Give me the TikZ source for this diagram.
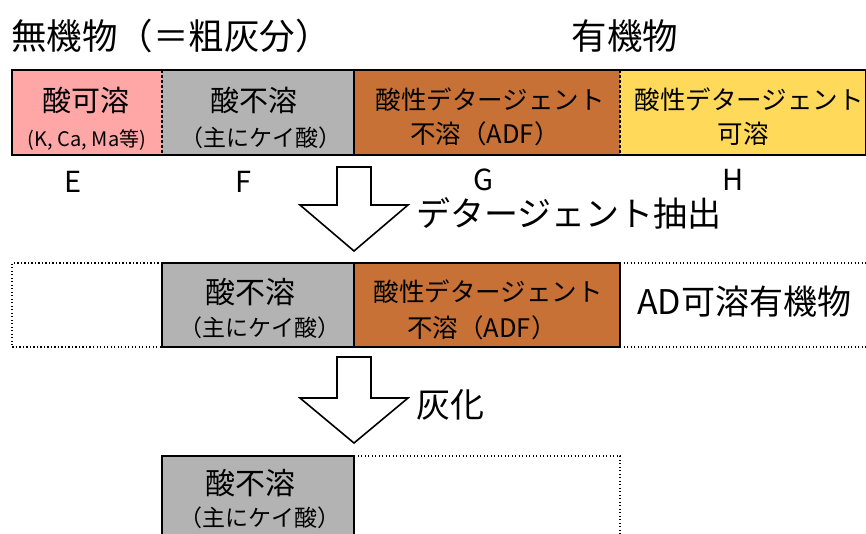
\documentclass[tikz,border=0pt]{standalone}
\usepackage{fontspec}
\setmainfont{Noto Sans CJK JP}
\definecolor{pinkE}{HTML}{FFA6A6}
\definecolor{grayF}{HTML}{B3B3B3}
\definecolor{orangeG}{HTML}{C87137}
\definecolor{yellowH}{HTML}{FFD95A}
\newcommand{\fs}[1]{\fontsize{#1}{#1}\selectfont}
\begin{document}
\begin{tikzpicture}[x=1pt,y=-1pt,
  cell/.style={anchor=north west, inner sep=0pt, outer sep=0pt},
  txt/.style={inner sep=0pt, anchor=center},
  frame/.style={line width=2pt},
  dots/.style={line width=1.4pt, dash pattern=on 1.3pt off 2.2pt},
  dashdiv/.style={line width=1.2pt, dash pattern=on 3pt off 2pt},
  blockarrow/.style={draw, line width=1.6pt, fill=white, line join=miter}
]
\useasboundingbox (0,0) rectangle (866,533);
% titles
\node[txt, anchor=west, font=\fs{35.5}] (t1) at (11,36) {無機物（＝粗灰分）};
\node[txt, font=\fs{35.5}] (t2) at (625,36) {有機物};
% row 1
\node[cell, fill=pinkE, minimum width=150pt, minimum height=85pt] (e1) at (12,70) {};
\node[cell, fill=grayF, minimum width=192pt, minimum height=85pt] (f1) at (162,70) {};
\node[cell, fill=orangeG, minimum width=266pt, minimum height=85pt] (g1) at (354,70) {};
\node[cell, fill=yellowH, minimum width=246pt, minimum height=85pt] (h1) at (620,70) {};
\draw[dashdiv] (e1.north east) -- (e1.south east);
\draw[line width=1.2pt] (f1.north east) -- (f1.south east);
\draw[dashdiv] (g1.north east) -- (g1.south east);
\draw[frame] (e1.north west) rectangle (h1.south east);
\node[txt, font=\fs{29}] (e1a) at (86,100) {酸可溶};
\node[txt, font=\fs{20}] (e1b) at (87,140) {(K, Ca, Ma等)};
\node[txt, font=\fs{29}] (f1a) at (254,100) {酸不溶};
\node[txt, font=\fs{23}] (f1b) at (261,138) {（主にケイ酸）};
\node[txt, font=\fs{25.5}] (g1a) at (490,100) {酸性デタージェント};
\node[txt, font=\fs{25.5}] (g1b) at (485,134) {不溶（ADF）};
\node[txt, font=\fs{25.5}] (h1a) at (749,100) {酸性デタージェント};
\node[txt, font=\fs{25.5}] (h1b) at (743,134) {可溶};
% letters
\node[txt, font=\fs{29}] (le) at (73,182) {E};
\node[txt, font=\fs{29}] (lf) at (243,182) {F};
\node[txt, font=\fs{29}] (lg) at (483,180) {G};
\node[txt, font=\fs{29}] (lh) at (733,180) {H};
% arrow 1
\draw[blockarrow] (337,167) -- (371,167) -- (371,205) -- (408,205) -- (354,251) -- (300,205) -- (337,205) -- cycle;
\node[txt, anchor=west, font=\fs{34}] (a1l) at (416,213) {デタージェント抽出};
% row 2
\node[cell, minimum width=150pt, minimum height=84pt] (e2) at (12,263) {};
\node[cell, fill=grayF, minimum width=192pt, minimum height=84pt] (f2) at (162,263) {};
\node[cell, fill=orangeG, minimum width=266pt, minimum height=84pt] (g2) at (354,263) {};
\node[cell, minimum width=246pt, minimum height=84pt] (h2) at (620,263) {};
\draw[dots] (e2.north east) -- (e2.north west) -- (e2.south west) -- (e2.south east);
\draw[dots] (h2.north west) -- (h2.north east) (h2.south west) -- (h2.south east);
\draw[line width=1.2pt] (f2.north east) -- (f2.south east);
\draw[frame] (f2.north west) rectangle (g2.south east);
\node[txt, font=\fs{30}] (f2a) at (250,292) {酸不溶};
\node[txt, font=\fs{23}] (f2b) at (260,328) {（主にケイ酸）};
\node[txt, font=\fs{25.5}] (g2a) at (488,292) {酸性デタージェント};
\node[txt, font=\fs{25.5}] (g2b) at (482,328) {不溶（ADF）};
\node[txt, anchor=west, font=\fs{34}] (h2a) at (637,302) {AD可溶有機物};
% arrow 2
\draw[blockarrow] (337,357) -- (371,357) -- (371,398) -- (408,398) -- (354,443) -- (300,398) -- (337,398) -- cycle;
\node[txt, anchor=west, font=\fs{34}] (a2l) at (416,405) {灰化};
% row 3
\node[cell, fill=grayF, minimum width=192pt, minimum height=90pt] (f3) at (162,456) {};
\node[cell, minimum width=266pt, minimum height=90pt] (g3) at (354,456) {};
\draw[dots] (g3.north west) -- (g3.north east) -- (g3.south east);
\draw[frame] (f3.south west) -- (f3.north west) -- (f3.north east) -- (f3.south east);
\node[txt, font=\fs{30}] (f3a) at (250,483) {酸不溶};
\node[txt, font=\fs{23}] (f3b) at (260,518) {（主にケイ酸）};
\end{tikzpicture}
\end{document}
